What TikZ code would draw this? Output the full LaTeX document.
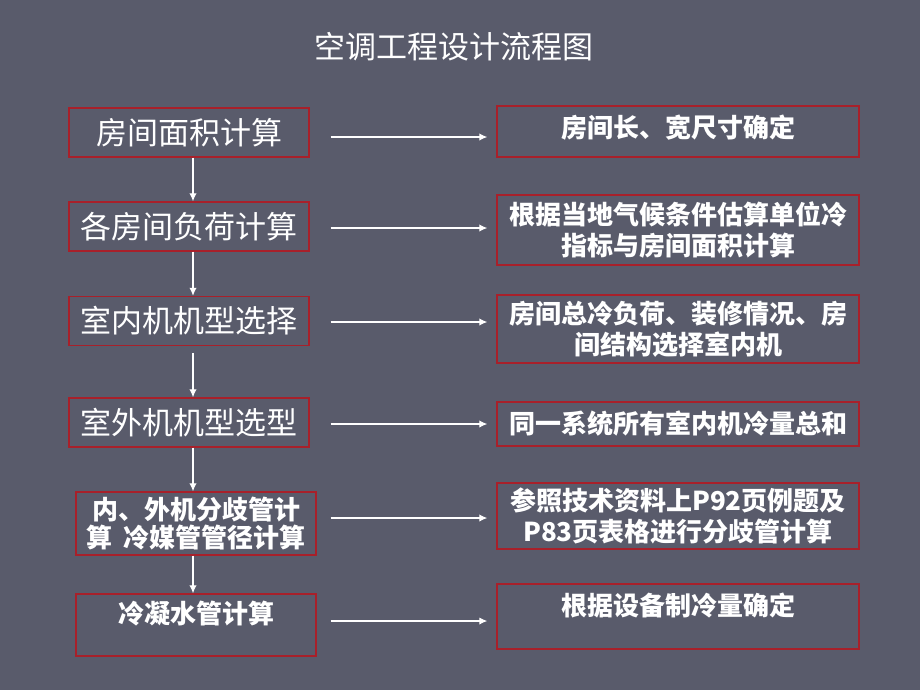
\documentclass[tikz,border=0pt]{standalone}
\usepackage{fontspec}
\newfontfamily\cjk{Noto Sans CJK SC}
\usetikzlibrary{arrows.meta, calc}
\definecolor{bgslate}{RGB}{89,91,107}
\definecolor{boxred}{RGB}{168,32,42}
\tikzset{
	lbox/.style={draw=boxred, line width=1.1pt, text=white, inner sep=0pt,
		minimum width=180pt, minimum height=36.75pt,
		font=\cjk\fontsize{23.25}{28}\selectfont},
	lsmall/.style={lbox, align=center, font=\cjk\bfseries\fontsize{19.5}{21}\selectfont},
	rbox/.style={draw=boxred, line width=1.1pt, text=white, inner sep=0pt,
		minimum width=271.5pt, align=center,
		font=\cjk\bfseries\fontsize{19.5}{23.25}\selectfont},
	flow/.style={white, line width=0.8pt, -{Latex[length=6pt,width=5.5pt]}},
}

\begin{document}
\begin{tikzpicture}[x=0.75pt, y=-0.75pt]
		\fill[bgslate] (0,0) rectangle (920,690);
		\node(title) [text=white, font=\cjk\fontsize{23.25}{28}\selectfont] at (454,47) {空调工程设计流程图};
		
		\node(l1) [lbox] at (189,132.5) {房间面积计算};
		\node(l2) [lbox] at (189,226.5) {各房间负荷计算};
		\node(l3) [lbox] at (189,321) {室内机机型选择};
		\node(l4) [lbox] at (189,422.5) {室外机机型选型};
		\node(l5) [lsmall, minimum height=47.25pt] at (196,523.5) {内、外机分歧管计\\算\hspace{0.4em}冷媒管管径计算};
		\node(l6) [lsmall, text height=21.75pt, text depth=24.75pt] at (196,625) {冷凝水管计算};
		
		\node(r1) [rbox, text height=23.25pt, text depth=15pt] at (678,131.5) {房间长、宽尺寸确定};
		\node(r2) [rbox, minimum height=52.5pt] at (678,230) {根据当地气候条件估算单位冷\\指标与房间面积计算};
		\node(r3) [rbox, minimum height=51pt] at (678,329) {房间总冷负荷、装修情况、房\\间结构选择室内机};
		\node(r4) [rbox, minimum height=33pt] at (678,424) {同一系统所有室内机冷量总和};
		\node(r5) [rbox, minimum height=49.5pt] at (678,516) {参照技术资料上P92页例题及\\P83页表格进行分歧管计算};
		\node(r6) [rbox, text height=23.25pt, text depth=25.5pt] at (678,616.5) {根据设备制冷量确定};
		
		\coordinate (spine) at (193,0);
		\foreach \a/\b/\s in {l1/l2/0pt, l2/l3/0pt, l3/l4/5pt, l4/l5/0pt, l5/l6/0pt}
			\draw[flow, shorten <=\s] (\a.south -| spine) -- (\b.north -| spine);
		
		\foreach \i/\y/\s in {1/137/15.75pt, 2/228/15.75pt, 3/322/15.75pt, 4/424/15.75pt, 5/518/10.5pt, 6/621/10.5pt}{
			\coordinate (h\i) at (0,\y);
			\draw[flow, shorten <=\s, shorten >=6.75pt] (l\i.east |- h\i) -- (r\i.west |- h\i);
		}
\end{tikzpicture}
\end{document}
